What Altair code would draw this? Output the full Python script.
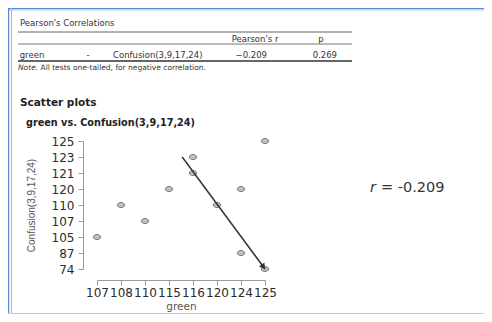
import altair as alt
import pandas as pd

# ---- data ----
x_labels = ["107", "108", "110", "115", "116", "120", "124", "125"]
y_labels = ["74", "87", "105", "107", "110", "120", "121", "123", "125"]
green = ["107", "108", "110", "115", "116", "116", "120", "124", "124", "125", "125"]
confusion = ["105", "110", "107", "120", "123", "121", "110", "120", "87", "125", "74"]

# arrow drawn over the plot (category index positions)
arrow_x = [3.55, 7.0]
arrow_y = [7.0, 0.0]

table_header = ["Pearson's r", "p"]
table_row = ["green", "-", "Confusion(3,9,17,24)", "\u22120.209", "0.269"]
r_text = "-0.209"

FONT = "DejaVu Sans"
NARROW = "Liberation Sans"
W, H = 168, 128
PAD = {"left": 89, "top": 133, "right": 219, "bottom": 45}

pts = pd.DataFrame({
    "gi": [x_labels.index(g) for g in green],
    "ci": [y_labels.index(c) for c in confusion],
    "green": green,
    "confusion": confusion,
})

x_expr = "[" + ",".join("'%s'" % s for s in x_labels) + "][datum.value]"
y_expr = "[" + ",".join("'%s'" % s for s in y_labels) + "][datum.value]"

x_axis = alt.Axis(values=list(range(len(x_labels))), labelExpr=x_expr, title="green",
                  offset=11, grid=False, domainColor="#9a9a9a", tickColor="#9a9a9a",
                  tickSize=5, labelFontSize=12, labelColor="#2b2b2b", labelPadding=2,
                  labelOverlap=False, labelFlush=False, labelBound=False,
                  titleFontSize=10.5, titleFontWeight="normal", titleColor="#555555",
                  titlePadding=3, labelFont=FONT, titleFont=FONT)
y_axis = alt.Axis(values=list(range(len(y_labels))), labelExpr=y_expr,
                  title="Confusion(3,9,17,24)",
                  offset=14, grid=False, domainColor="#9a9a9a", tickColor="#9a9a9a",
                  tickSize=5, labelFontSize=12, labelColor="#2b2b2b", labelPadding=4,
                  labelOverlap=False, labelFlush=False, labelBound=False,
                  titleFontSize=10, titleFontWeight="normal", titleColor="#555555",
                  titlePadding=15, labelFont=FONT, titleFont=NARROW)
x_scale = alt.Scale(domain=[0, len(x_labels) - 1], nice=False, zero=False)
y_scale = alt.Scale(domain=[0, len(y_labels) - 1], nice=False, zero=False)


def xs():
    return alt.X("gi:Q", scale=x_scale, axis=x_axis)


def ys():
    return alt.Y("ci:Q", scale=y_scale, axis=y_axis)


ELLIPSE = "M -1 0 A 1 0.72 0 1 1 1 0 A 1 0.72 0 1 1 -1 0 Z"

points = alt.Chart(pts).mark_point(shape=ELLIPSE, filled=False, size=52, strokeWidth=1,
                                   color="#7a7a7a", fill="#bdbdbd", fillOpacity=1).encode(
    x=xs(), y=ys())

arrow_df = pd.DataFrame({"gi": arrow_x, "ci": arrow_y, "o": [0, 1]})
arrow_line = alt.Chart(arrow_df).mark_line(color="#333333", strokeWidth=1.5).encode(
    x=xs(), y=ys(), order="o:Q")
head_df = pd.DataFrame({"gi": [arrow_x[1] - 0.09], "ci": [arrow_y[1] + 0.18]})
arrow_head = alt.Chart(head_df).mark_point(shape="triangle", filled=True, size=45,
                                           angle=143, color="#333333", opacity=1).encode(
    x=xs(), y=ys())

OX, OY = 97, 141  # page coordinates of the plot origin


def txt(s, px, py, size=8, weight="normal", style="normal", align="left", color="#333333",
        font=FONT):
    return alt.Chart(pd.DataFrame({"t": [s]})).mark_text(
        text=s, fontSize=size, fontWeight=weight, fontStyle=style, align=align,
        baseline="middle", color=color, font=font).encode(
        x=alt.value(px - OX), y=alt.value(py - OY))


def hrule(py, px1, px2, color="#555555", width=1.0):
    return alt.Chart(pd.DataFrame({"a": [0]})).mark_rule(color=color, strokeWidth=width).encode(
        x=alt.value(px1 - OX), x2=alt.value(px2 - OX), y=alt.value(py - OY))


def vrule(px, py1, py2, color, width=1.0):
    return alt.Chart(pd.DataFrame({"a": [0]})).mark_rule(color=color, strokeWidth=width).encode(
        x=alt.value(px - OX), y=alt.value(py1 - OY), y2=alt.value(py2 - OY))


layers = [
    points,
    arrow_line,
    arrow_head,
    # window border
    hrule(8.5, 8, 484, color="#5b88d4", width=1.5),
    hrule(10, 8, 484, color="#b4cbee", width=1),
    vrule(8.5, 8, 314, color="#5b88d4", width=1.5),
    vrule(11.5, 8, 314, color="#9cb8e6", width=1),
    hrule(313.5, 8, 484, color="#b4cbee", width=1),
    # table
    txt("Pearson's Correlations", 20, 22.5, size=8.5),
    hrule(32, 18, 352, color="#666666", width=1),
    txt(table_header[0], 255, 38.5, size=8.5, align="center"),
    txt(table_header[1], 321, 38.5, size=8.5, align="center"),
    hrule(44, 18, 352, color="#777777", width=1),
    txt(table_row[0], 32, 55, size=8.5, align="center"),
    txt(table_row[1], 88, 55, size=8.5, align="center"),
    txt(table_row[2], 113, 55, size=8.5),
    txt(table_row[3], 267, 55, size=8.5, align="right"),
    txt(table_row[4], 337, 55, size=8.5, align="right"),
    hrule(61, 18, 352, color="#333333", width=1.6),
    txt("Note.", 18, 67.5, size=7.5, style="italic"),
    txt("All tests one-tailed, for negative correlation.", 40.5, 67.5, size=7.5),
    # headings
    txt("Scatter plots", 20, 103, size=10.5, weight="bold", color="#222222"),
    txt("green vs. Confusion(3,9,17,24)", 26, 123, size=9.7, weight="bold", color="#222222"),
    # r annotation
    txt("r", 370, 188, size=14.5, style="italic"),
    txt("= " + r_text, 381, 188, size=14.5),
]

chart = alt.layer(*layers).properties(
    width=W, height=H, padding=PAD, autosize=alt.AutoSizeParams(type="none"),
    background="white"
).configure_view(stroke=None)

chart.save("out.html", embed_options={"renderer": "svg", "actions": False})
